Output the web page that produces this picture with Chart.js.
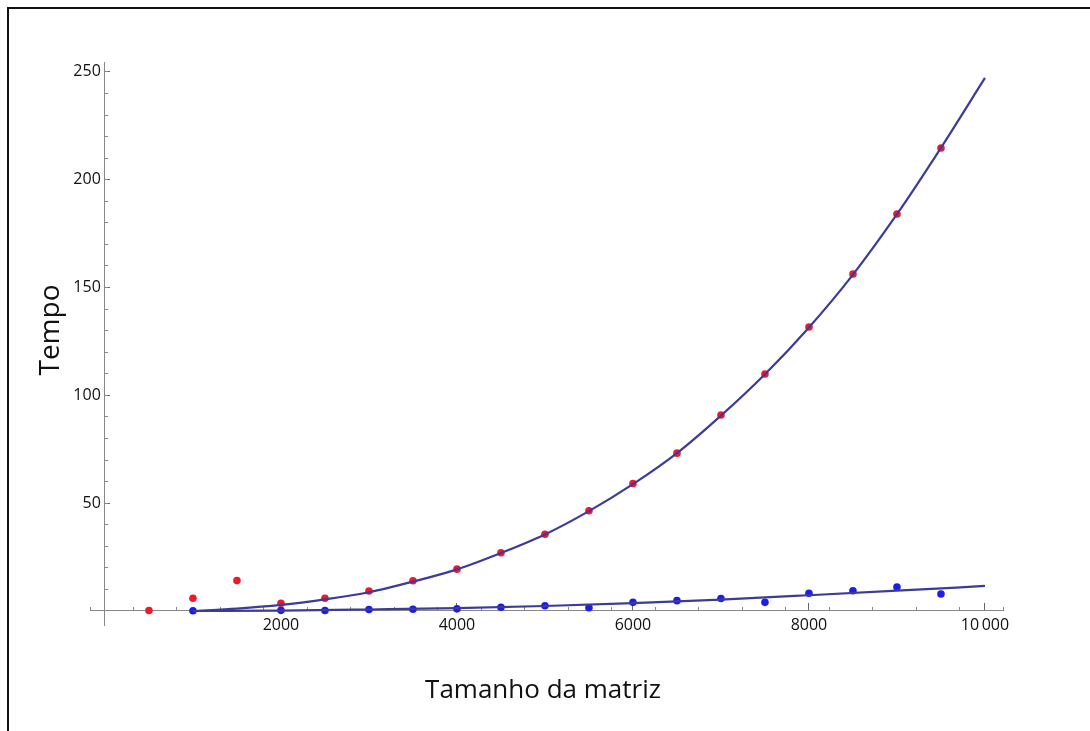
<!DOCTYPE html>
<html>
<head>
<meta charset="utf-8">
<script src="https://cdn.jsdelivr.net/npm/chart.js@4.4.1/dist/chart.umd.min.js"></script>
<style>
html,body{margin:0;padding:0;background:#fff;}
#wrap{position:relative;width:1090px;height:731px;overflow:hidden;background:#fff;}
#frame{position:absolute;left:7px;top:7px;width:1200px;height:800px;border-left:2px solid #111;border-top:2px solid #111;box-sizing:border-box;}
canvas{position:absolute;left:0;top:0;}
.ttl{position:absolute;font-family:"Open Sans",sans-serif;color:#111;white-space:nowrap;text-align:center;}
#xt{left:343px;width:400px;top:669px;font-size:26px;line-height:38px;}
#yt{left:-52px;width:200px;top:311px;font-size:28px;line-height:38px;transform:rotate(-90deg);}
</style>
</head>
<body>
<div id="wrap">
<canvas id="c" width="1090" height="731"></canvas>
<div id="frame"></div>
<div class="ttl" id="xt">Tamanho da matriz</div>
<div class="ttl" id="yt">Tempo</div>
</div>
<script>
// ---- data ----
const redSizes = [500,1000,1500,2000,2500,3000,3500,4000,4500,5000,5500,6000,6500,7000,7500,8000,8500,9000,9500];
const redTimes = [0.2,5.9,14.1,3.6,5.9,9.3,14.0,19.4,27.0,35.6,46.5,59.1,73.2,90.9,109.9,131.7,156.3,184.1,214.7];

const blueSizes = [1000,2000,2500,3000,3500,4000,4500,5000,5500,6000,6500,7000,7500,8000,8500,9000,9500];
const blueTimes = [0.1,0.3,0.2,0.7,0.8,1.0,1.7,2.4,1.5,4.0,4.8,5.8,4.0,8.2,9.4,11.1,7.9];

const redFitSizes = [1000,1500,2000,2500,3000,3500,4000,4500,5000,5500,6000,6500,7000,7500,8000,8500,9000,9500,10000];
const redFitTimes = [0.0,1.1,2.8,5.4,8.7,13.6,19.3,26.9,35.5,46.3,58.8,73.2,90.6,109.8,131.5,156.0,184.0,214.8,247.2];

const blueFitSizes = [1000,2000,3000,4000,5000,6000,7000,8000,9000,10000];
const blueFitTimes = [0.0,0.2,0.7,1.3,2.3,3.6,5.3,7.3,9.4,11.6];

const xTickValues = [2000,4000,6000,8000,10000];
const xTickLabels = ['2000','4000','6000','8000','10\u2009000'];
const yTickValues = [50,100,150,200,250];
const yTickLabels = ['50','100','150','200','250'];

const pts = (xs, ys) => xs.map((x, i) => ({x: x, y: ys[i]}));

const FONT = {family: '"Open Sans", sans-serif', size: 16};
const LINE = '#3b3b98';

new Chart(document.getElementById('c'), {
  type: 'scatter',
  data: {
    datasets: [
      {data: pts(redFitSizes, redFitTimes), showLine: true, borderColor: LINE, borderWidth: 2.2,
       pointRadius: 0, cubicInterpolationMode: 'monotone', order: 0},
      {data: pts(blueFitSizes, blueFitTimes), showLine: true, borderColor: LINE, borderWidth: 2.2,
       pointRadius: 0, cubicInterpolationMode: 'monotone', order: 0},
      {data: pts(redSizes, redTimes), pointRadius: 3.8, pointBackgroundColor: '#ee1a2a',
       pointBorderWidth: 0, borderColor: '#ee1a2a', order: 1},
      {data: pts(blueSizes, blueTimes), pointRadius: 3.8, pointBackgroundColor: '#1c1ced',
       pointBorderWidth: 0, borderColor: '#1c1ced', order: 1}
    ]
  },
  options: {
    responsive: false,
    animation: false,
    devicePixelRatio: 1,
    layout: {padding: {left: 90, top: 62, right: 87, bottom: 106}},
    plugins: {legend: {display: false}, tooltip: {enabled: false}, title: {display: false}},
    scales: {
      x: {
        type: 'linear', axis: 'x', min: -170, max: 10205, position: {y: 0},
        afterBuildTicks: s => { s.ticks = xTickValues.map(v => ({value: v})); },
        grid: {drawOnChartArea: false, drawTicks: true, tickLength: -8, color: '#666', lineWidth: 1},
        border: {display: true, color: '#888', width: 1},
        ticks: {padding: 13, font: FONT, color: '#111', maxRotation: 0, autoSkip: false,
          callback: v => { const i = xTickValues.indexOf(v); return i >= 0 ? xTickLabels[i] : ''; }}
      },
      x2: {
        type: 'linear', axis: 'x', min: -170, max: 10205, position: {y: 0},
        ticks: {stepSize: 500, includeBounds: false, display: false},
        grid: {drawOnChartArea: false, drawTicks: true, tickLength: -4, color: '#888', lineWidth: 1},
        border: {display: false}
      },
      y: {
        type: 'linear', axis: 'y', min: -6.5, max: 254.6, position: {x: 0},
        afterBuildTicks: s => { s.ticks = yTickValues.map(v => ({value: v})); },
        grid: {drawOnChartArea: false, drawTicks: true, tickLength: -6, color: '#666', lineWidth: 1},
        border: {display: true, color: '#888', width: 1},
        ticks: {padding: 17, font: FONT, color: '#111', autoSkip: false,
          callback: v => { const i = yTickValues.indexOf(v); return i >= 0 ? yTickLabels[i] + ' ' : ''; }}
      },
      y2: {
        type: 'linear', axis: 'y', min: -6.5, max: 254.6, position: {x: 0},
        ticks: {stepSize: 10, includeBounds: false, display: false},
        grid: {drawOnChartArea: false, drawTicks: true, tickLength: -3, color: '#888', lineWidth: 1},
        border: {display: false}
      }
    }
  }
});
</script>
</body>
</html>
